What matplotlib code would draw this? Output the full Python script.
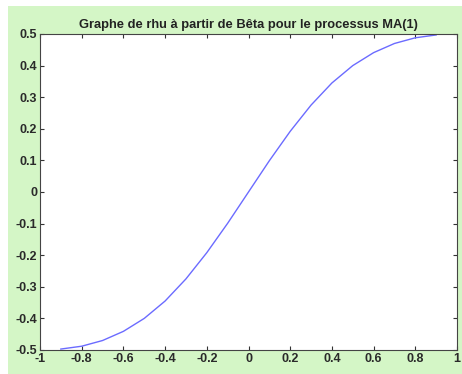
import matplotlib.pyplot as plt
from matplotlib.patches import Rectangle

# valeurs (rho en fonction de beta)
beta = [-0.9, -0.8, -0.7, -0.6, -0.5, -0.4, -0.3, -0.2, -0.1, 0.0,
        0.1, 0.2, 0.3, 0.4, 0.5, 0.6, 0.7, 0.8, 0.9]
rho = [-0.497, -0.488, -0.470, -0.441, -0.400, -0.345, -0.275, -0.192, -0.099, 0.0,
       0.099, 0.192, 0.275, 0.345, 0.400, 0.441, 0.470, 0.488, 0.497]
xticks = [-1, -0.8, -0.6, -0.4, -0.2, 0, 0.2, 0.4, 0.6, 0.8, 1]
yticks = [-0.5, -0.4, -0.3, -0.2, -0.1, 0, 0.1, 0.2, 0.3, 0.4, 0.5]

plt.rcParams['font.family'] = ['Liberation Sans', 'DejaVu Sans']

fig = plt.figure(figsize=(4.62, 3.74), dpi=100, facecolor='white')
# fond vert de la fenetre
fig.patches.append(Rectangle((8/462, 0), 1, 1 - 6/374, transform=fig.transFigure,
                             facecolor='#d4f6c6', edgecolor='none', zorder=-10))

ax = fig.add_axes([40/462, 1 - 350/374, (457 - 40)/462, (350 - 34)/374])
ax.plot(beta, rho, color='#6b6bff', lw=1.0)
ax.set_xlim(-1, 1)
ax.set_ylim(-0.5, 0.5)
ax.set_xticks(xticks)
ax.set_yticks(yticks)
ax.set_xticklabels([f'{t:g}' for t in xticks])
ax.set_yticklabels([f'{t:g}' for t in yticks])
ax.tick_params(direction='in', top=True, right=True, length=3, width=0.8,
               colors='#333333', labelsize=9, pad=2)
for lab in ax.get_xticklabels() + ax.get_yticklabels():
    lab.set_fontweight('bold')
    lab.set_color('#2a2a2a')
for s in ax.spines.values():
    s.set_color('#444444')
    s.set_linewidth(0.8)
ax.set_title('Graphe de rhu à partir de Bêta pour le processus MA(1)',
             fontsize=9.3, fontweight='bold', color='#222222', pad=4)

fig.savefig('out.png', dpi=100)
